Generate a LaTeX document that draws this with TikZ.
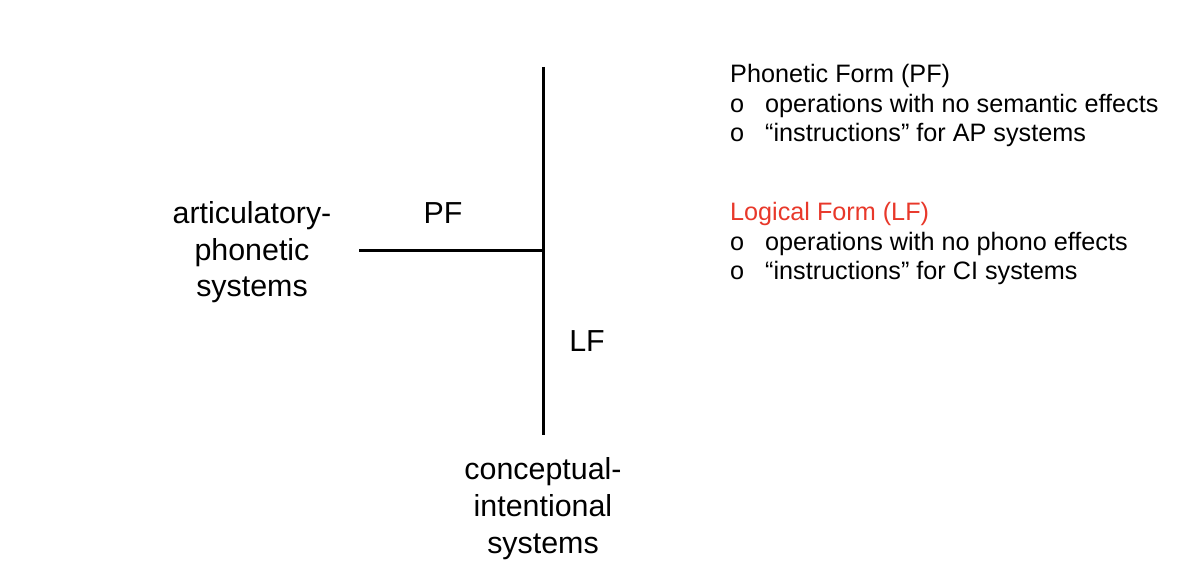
\documentclass[tikz,border=0pt]{standalone}
\usepackage{fontspec}
\setmainfont{Liberation Sans}
\definecolor{lfred}{RGB}{232,56,42}
\begin{document}
\begin{tikzpicture}[x=1bp,y=-1bp,
  big/.style={font=\fontsize{30.5}{37}\selectfont, inner sep=0pt, align=center},
  info/.style={font=\fontsize{25.3}{30}\selectfont, inner sep=0pt, align=left, anchor=base west},
  tline/.style={line width=3bp}]
\useasboundingbox (0,0) rectangle (1180,566);
\coordinate (top) at (543,67);
\coordinate (bot) at (543,435);
\coordinate (join) at (543,251);
\coordinate (left) at (359,251);
\draw[tline] (top) -- (bot);
\draw[tline] (left) -- (join);
\node[big, anchor=base] (ap) at (252,297) {articulatory-\\phonetic\\systems};
\node[big, anchor=base] (ci) at (543,553) {conceptual-\\intentional\\systems};
\node[big, anchor=base] (pflab) at (443,224) {PF};
\node[big, anchor=base] (lflab) at (587,352) {LF};
\node[info] (pf) at (730,142) {Phonetic Form (PF)\\\makebox[35bp][l]{o}operations with no semantic effects\\\makebox[35bp][l]{o}“instructions” for AP systems};
\node[info] (lf) at (730,280) {\textcolor{lfred}{Logical Form (LF)}\\\makebox[35bp][l]{o}operations with no phono effects\\\makebox[35bp][l]{o}“instructions” for CI systems};
\end{tikzpicture}
\end{document}
